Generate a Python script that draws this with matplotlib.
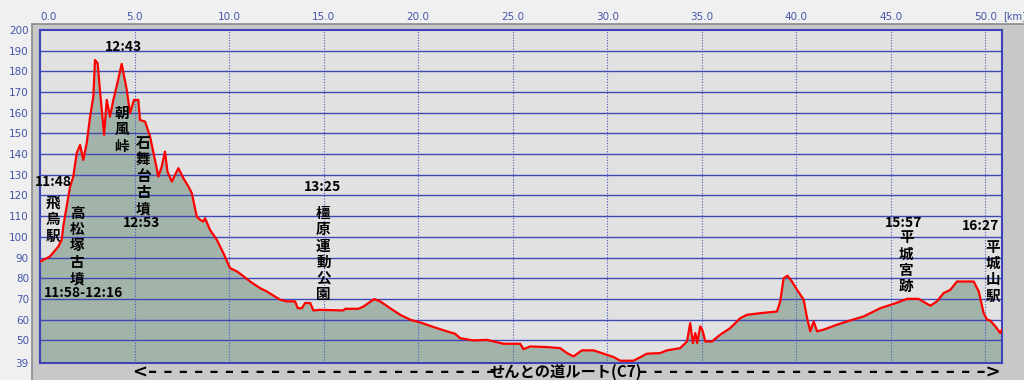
import matplotlib
matplotlib.use("Agg")
import matplotlib.pyplot as plt
from matplotlib.patches import Rectangle

plt.rcParams['font.family'] = ['Noto Sans CJK JP', 'DejaVu Sans']

# ---- data: distance (km) and elevation (m) ----
dist_km = [0.00, 0.53, 0.97, 1.15, 1.23, 1.41, 1.59, 1.76, 1.94, 2.12, 2.29, 2.47,
           2.65, 2.82, 2.91, 3.05, 3.17, 3.39, 3.53, 3.70, 3.88, 4.09, 4.32, 4.59,
           4.76, 4.97, 5.20, 5.29, 5.56, 5.82, 6.08, 6.26, 6.44, 6.61, 6.74, 6.97,
           7.32, 7.58, 7.85, 8.03, 8.29, 8.47, 8.64, 8.73, 8.99, 9.35, 9.70, 10.05,
           10.41, 10.67, 11.11, 11.64, 11.99, 12.70, 13.05, 13.49, 13.63, 13.85, 14.02,
           14.29, 14.46, 14.81, 16.05, 16.14, 16.84, 17.11, 17.67, 17.99, 18.52, 19.05,
           19.58, 20.11, 20.81, 21.52, 21.96, 22.22, 22.93, 23.63, 24.51, 25.40, 25.57,
           25.93, 26.81, 27.51, 27.87, 28.22, 28.66, 29.28, 29.80, 30.33, 30.69, 31.39,
           32.10, 32.80, 33.16, 33.86, 34.22, 34.39, 34.53, 34.66, 34.76, 34.92, 35.03,
           35.19, 35.54, 35.98, 36.51, 37.04, 37.39, 38.10, 38.98, 39.15, 39.33, 39.54,
           39.77, 40.04, 40.39, 40.57, 40.74, 40.92, 41.10, 41.44, 42.15, 42.68, 43.56,
           44.44, 45.15, 45.86, 46.47, 47.09, 47.44, 47.79, 48.15, 48.50, 49.38, 49.65,
           49.91, 50.09, 50.26, 50.53, 50.79, 50.88]
elev_m = [88.0, 90.5, 95.3, 98.6, 105.0, 114.6, 124.3, 129.1, 140.4, 144.4, 137.2, 145.3,
          158.1, 167.8, 185.5, 183.9, 171.0, 149.3, 166.2, 158.1, 166.2, 174.2, 183.6, 171.0,
          159.8, 166.2, 166.2, 156.5, 155.7, 148.5, 137.2, 129.1, 134.0, 141.2, 131.6, 126.7,
          133.2, 128.4, 124.3, 121.1, 109.8, 108.2, 107.4, 109.0, 103.4, 98.6, 92.1, 84.9,
          83.3, 81.6, 78.4, 75.2, 73.6, 69.6, 68.8, 68.8, 65.5, 65.5, 68.0,
          68.0, 64.4, 64.7, 64.4, 65.2, 65.2, 66.3, 69.9, 68.8, 65.5, 62.3,
          59.9, 58.6, 56.4, 54.3, 53.1, 51.0, 49.9, 50.2, 48.3, 48.3, 45.7,
          47.0, 46.7, 46.2, 43.8, 42.2, 45.1, 45.1, 43.5, 41.9, 40.1, 40.1,
          43.5, 43.8, 45.1, 46.2, 49.4, 58.3, 48.6, 53.5, 48.6, 56.7, 55.0,
          49.4, 49.4, 52.7, 55.9, 60.7, 62.3, 63.1, 63.9, 68.8, 80.0, 81.2,
          78.4, 74.4, 69.6, 60.7, 54.3, 59.1, 54.3, 55.1, 57.5, 59.1, 61.5,
          65.5, 67.6, 70.0, 70.0, 66.7, 68.8, 72.8, 74.4, 78.4, 78.4, 73.6,
          63.1, 59.9, 59.5, 56.7, 53.5, 55.1]

x_ticks = [0, 5, 10, 15, 20, 25, 30, 35, 40, 45, 50]
x_tick_labels = ["0.0", "5.0", "10.0", "15.0", "20.0", "25.0", "30.0", "35.0", "40.0", "45.0", "50.0"]
y_ticks = [39, 50, 60, 70, 80, 90, 100, 110, 120, 130, 140, 150, 160, 170, 180, 190, 200]
y_grid = [50, 60, 70, 80, 90, 100, 110, 120, 130, 140, 150, 160, 170, 180, 190]

time_labels = [(0.69, 126.6, "11:48"), (2.30, 72.8, "11:58-12:16"), (4.39, 191.9, "12:43"),
               (5.38, 106.8, "12:53"), (14.95, 124.0, "13:25"), (45.66, 106.9, "15:57"),
               (49.72, 105.0, "16:27")]
place_labels = [(0.69, 116.4, "飛鳥駅"), (1.96, 111.6, "高松塚古墳"), (4.32, 159.9, "朝風峠"),
                (5.47, 145.4, "石舞台古墳"), (14.99, 111.6, "橿原運動公園"),
                (45.82, 99.8, "平城宮跡"), (50.40, 95.3, "平城山駅")]
route_label = "せんとの道ルート(C7)"
n_dashes = 23

# ---- figure ----
fig = plt.figure(figsize=(10.24, 3.8), dpi=100)
fig.patch.set_facecolor('#f0f0f0')

# gray panel behind plot
panel = Rectangle((32 / 1024, 0), 1 - 32 / 1024, (380 - 24) / 380, transform=fig.transFigure,
                  facecolor='#c8c8c8', edgecolor='none', zorder=-2)
fig.add_artist(panel)
fig.add_artist(plt.Line2D([32 / 1024, 32 / 1024], [0, 356 / 380], color='#8a8a8a', lw=1.2,
                          transform=fig.transFigure, zorder=-1))
fig.add_artist(plt.Line2D([32 / 1024, 1], [356 / 380, 356 / 380], color='#8a8a8a', lw=1.2,
                          transform=fig.transFigure, zorder=-1))

ax = fig.add_axes([40 / 1024, 17 / 380, 962 / 1024, 333 / 380])
ax.set_zorder(1)
ax.set_facecolor('#e1e1e1')
ax.set_xlim(0, 50.88)
ax.set_ylim(39, 200)

ax.fill_between(dist_km, elev_m, 39, color='#a2b4aa', zorder=1, lw=0)
for g in y_grid:
    ax.axhline(g, color='#4048b4', lw=1.0, zorder=2)
for t in x_ticks:
    ax.axvline(t, color='#4858c0', lw=0.8, ls=(0, (1, 1.5)), zorder=2)
ax.plot(dist_km, elev_m, color='#ff0000', lw=1.6, zorder=3)

for sp in ax.spines.values():
    sp.set_color('#3c44b8')
    sp.set_linewidth(1.5)

tick_color = '#4455aa'
ax.xaxis.tick_top()
ax.set_xticks(x_ticks)
ax.set_xticklabels(x_tick_labels, fontsize=7.5, color=tick_color, family='DejaVu Sans')
ax.tick_params(axis='x', length=0, pad=6)
ax.get_xticklabels()[0].set_ha('left')
ax.set_yticks(y_ticks)
ax.set_yticklabels([str(v) for v in y_ticks], fontsize=7.5, color=tick_color, family='DejaVu Sans')
ax.tick_params(axis='y', length=0, pad=8)
fig.text(1003 / 1024, 1 - 16 / 380, "[km]", fontsize=7, color=tick_color, family='DejaVu Sans',
         ha='left', va='center')

for x, y, s in time_labels:
    ax.text(x, y, s, ha='center', va='center', fontsize=10, fontweight='bold', color='black', zorder=5)

step_pt = 16.3 * 72 / 100
for x, y, s in place_labels:
    for i, ch in enumerate(s):
        ax.annotate(ch, (x, y), xytext=(0, -i * step_pt), textcoords='offset points',
                    ha='center', va='center', fontsize=10.5, fontweight='bold', color='black',
                    zorder=5)

# bottom route caption: <- - - - label - - - ->
ry = 8 / 380
fig.text(133 / 1024, ry, "<" + "– " * n_dashes, ha='left', va='center', fontsize=13,
         fontweight='bold', color='black', family='DejaVu Sans')
fig.text(566 / 1024, ry, route_label, ha='center', va='center', fontsize=11,
         fontweight='bold', color='black')
fig.text(1001 / 1024, ry, " –" * n_dashes + ">", ha='right', va='center', fontsize=13,
         fontweight='bold', color='black', family='DejaVu Sans')

fig.savefig('out.png', dpi=100, facecolor=fig.get_facecolor())
